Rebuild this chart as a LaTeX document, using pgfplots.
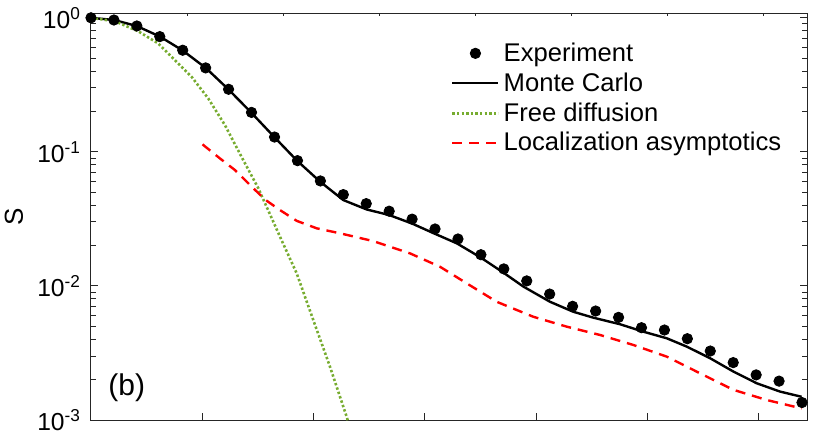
\documentclass[border=0pt]{standalone}
\usepackage{fontspec}
\setmainfont{Liberation Sans}
\usepackage{pgfplots}
\pgfplotsset{compat=1.18}

\definecolor{mgreen}{rgb}{0.466,0.674,0.188}
\definecolor{axgray}{rgb}{0.15,0.15,0.15}

\begin{document}
\begin{tikzpicture}
\path[use as bounding box] (-45.5pt,-10pt) rectangle (361.5pt,210pt);

% top axis: its own ticks, no labels
\begin{axis}[
    at={(0pt,0pt)}, anchor=south west,
    scale only axis, width=358pt, height=203.5pt,
    xmin=0, xmax=7.451, ymin=0, ymax=1,
    xtick={1,2,3,4,5,6,7}, xticklabels={},
    xtick pos=right, ytick=\empty,
    major tick length=1.7pt,
    axis line style={axgray, line width=0.5pt},
    every tick/.style={axgray, line width=0.5pt},
]
\end{axis}

\begin{axis}[
    at={(0pt,0pt)}, anchor=south west,
    scale only axis, width=358pt, height=203.5pt,
    ymode=log,
    xmin=0, xmax=6.433,
    ymin=0.001, ymax=1.086,
    xtick={1,2,3,4,5,6}, xticklabels={},
    xtick pos=left,
    ytick={0.001,0.01,0.1,1},
    yticklabels={10\textsuperscript{-3},10\textsuperscript{-2},10\textsuperscript{-1},10\textsuperscript{0}},
    minor ytick={0.002,0.003,0.004,0.005,0.006,0.007,0.008,0.009,
                 0.02,0.03,0.04,0.05,0.06,0.07,0.08,0.09,
                 0.2,0.3,0.4,0.5,0.6,0.7,0.8,0.9},
    ytick pos=both,
    tick align=inside,
    major tick length=3.6pt, minor tick length=2.4pt,
    axis line style={axgray, line width=0.5pt},
    every tick/.style={axgray, line width=0.5pt},
    yticklabel style={font=\fontsize{12.3}{14}\selectfont, xshift=-1.5pt},
    ylabel={S},
    ylabel style={at={(axis description cs:-0.1075,0.5)}, anchor=center, font=\fontsize{13}{15}\selectfont},
    legend style={draw=none, fill=none, at={(0.494,0.948)}, anchor=north west,
                  font=\fontsize{12.8}{15}\selectfont, row sep=0.2pt},
    legend cell align=left,
    legend image code/.code={\draw[mark repeat=2,mark phase=2,#1] plot coordinates {(0pt,0pt) (11.5pt,0pt) (23pt,0pt)};},
]

% Experiment
\addplot[only marks, mark=*, mark size=2.6pt, black] coordinates {
(0,1.0) (0.206,0.963) (0.412,0.869) (0.618,0.724) (0.824,0.573)
(1.030,0.423) (1.236,0.293) (1.442,0.197) (1.649,0.129) (1.855,0.0860)
(2.061,0.0607) (2.267,0.0480) (2.473,0.0411) (2.679,0.0361) (2.885,0.0315)
(3.091,0.0266) (3.297,0.0224) (3.503,0.0171) (3.709,0.0134) (3.915,0.0109)
(4.121,0.00870) (4.327,0.00705) (4.534,0.00650) (4.740,0.00583) (4.946,0.00488)
(5.152,0.00469) (5.358,0.00404) (5.564,0.00327) (5.770,0.00268) (5.976,0.00217)
(6.182,0.00195) (6.388,0.00135)
};

% Monte Carlo
\addplot[black, line width=1.2pt, mark=none] coordinates {
(0,1.0) (0.207,0.963) (0.411,0.869) (0.620,0.724) (0.820,0.573)
(1.031,0.423) (1.234,0.293) (1.438,0.197) (1.647,0.129) (1.851,0.0860)
(2.058,0.0600) (2.267,0.0437) (2.477,0.0372) (2.679,0.0338) (2.885,0.0292)
(3.075,0.0248) (3.286,0.0208) (3.495,0.01642) (3.704,0.01259) (3.884,0.00990)
(4.124,0.00762) (4.333,0.00642) (4.513,0.00580) (4.753,0.00518) (4.962,0.00456)
(5.173,0.00407) (5.352,0.00353) (5.562,0.00289) (5.771,0.00230) (5.981,0.00188)
(6.190,0.00163) (6.385,0.00149)
};

% Free diffusion
\addplot[mgreen, line width=1.3pt, dash pattern=on 1.2pt off 1.1pt, mark=none] coordinates {
(0,1.0) (0.216,0.942) (0.425,0.793) (0.605,0.643) (0.755,0.482)
(0.905,0.362) (1.054,0.250) (1.204,0.158) (1.354,0.0913) (1.503,0.0536)
(1.698,0.0233) (1.848,0.01242) (1.997,0.00557) (2.147,0.00250) (2.297,0.00106)
(2.327,0.00087)
};

% Localization asymptotics
\addplot[red, line width=1.2pt, dash pattern=on 5pt off 3.5pt, mark=none] coordinates {
(1.002,0.1137) (1.159,0.0893) (1.294,0.0731) (1.429,0.0566) (1.563,0.0441)
(1.698,0.0368) (1.848,0.0306) (2.028,0.0269) (2.237,0.0247) (2.536,0.0216)
(2.866,0.0175) (3.136,0.0139) (3.376,0.01045) (3.645,0.00762) (3.974,0.00589)
(4.274,0.00497) (4.573,0.00431) (4.872,0.00363) (5.173,0.00297) (5.472,0.00223)
(5.771,0.00168) (6.071,0.00141) (6.385,0.00122)
};

\legend{Experiment, Monte Carlo, Free diffusion, Localization asymptotics}

\node[anchor=west, inner sep=0pt, font=\fontsize{15}{17}\selectfont] at (rel axis cs:0.0237,0.079) {(b)};
\end{axis}
\end{tikzpicture}
\end{document}
